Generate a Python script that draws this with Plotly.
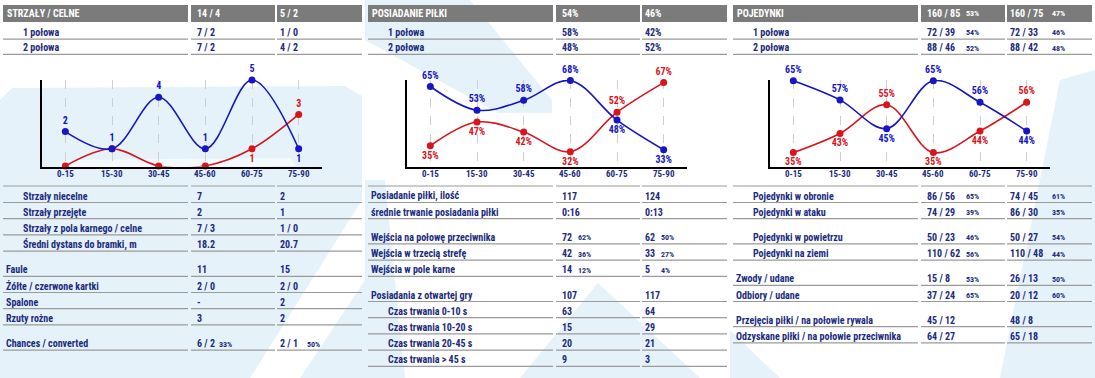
import plotly.graph_objects as go

W, H = 1095, 378
NAVY = "#1b2b7e"
BLUE = "#1616c4"
RED = "#d8141c"
HEAD = "#7b7b7b"
RULE = "#9a9a9a"
WASH = "#e6f2fa"
FONT = "Liberation Sans Narrow, Arial Narrow, Roboto Condensed, Roboto, sans-serif"

# ---------------- data ----------------
periods = ["0-15", "15-30", "30-45", "45-60", "60-75", "75-90"]
shots_home = [2, 1, 4, 1, 5, 1]
shots_away = [0, 1, 0, 0, 1, 3]
poss_home = [65, 53, 58, 68, 48, 33]
poss_away = [35, 47, 42, 32, 52, 67]
duels_home = [65, 57, 45, 65, 56, 44]
duels_away = [35, 43, 55, 35, 44, 56]

halves = ["1 połowa", "2 połowa"]

p1_title = "STRZAŁY / CELNE"
p1_total = ["14 / 4", "5 / 2"]
p1_total_pct = ["", ""]
p1_half_home = ["7 / 2", "7 / 2"]
p1_half_home_pct = ["", ""]
p1_half_away = ["1 / 0", "4 / 2"]
p1_half_away_pct = ["", ""]

p2_title = "POSIADANIE PIŁKI"
p2_total = ["54%", "46%"]
p2_total_pct = ["", ""]
p2_half_home = ["58%", "48%"]
p2_half_home_pct = ["", ""]
p2_half_away = ["42%", "52%"]
p2_half_away_pct = ["", ""]

p3_title = "POJEDYNKI"
p3_total = ["160 / 85", "160 / 75"]
p3_total_pct = ["53%", "47%"]
p3_half_home = ["72 / 39", "88 / 46"]
p3_half_home_pct = ["54%", "52%"]
p3_half_away = ["72 / 33", "88 / 42"]
p3_half_away_pct = ["46%", "48%"]

p1_rows = ["Strzały niecelne", "Strzały przejęte", "Strzały z pola karnego / celne",
           "Średni dystans do bramki, m", "Faule", "Żółte / czerwone kartki", "Spalone",
           "Rzuty rożne", "Chances / converted"]
p1_indent = [1, 1, 1, 1, 0, 0, 0, 0, 0]
p1_group = [0, 0, 0, 0, 1, 1, 1, 1, 2]
p1_home = ["7", "2", "7 / 3", "18.2", "11", "2 / 0", "-", "3", "6 / 2"]
p1_home_pct = ["", "", "", "", "", "", "", "", "33%"]
p1_away = ["2", "1", "1 / 0", "20.7", "15", "2 / 0", "2", "2", "2 / 1"]
p1_away_pct = ["", "", "", "", "", "", "", "", "50%"]

p2_rows = ["Posiadanie piłki, ilość", "średnie trwanie posiadania piłki",
           "Wejścia na połowę przeciwnika", "Wejścia w trzecią strefę", "Wejścia w pole karne",
           "Posiadania z otwartej gry", "Czas trwania 0-10 s", "Czas trwania 10-20 s",
           "Czas trwania 20-45 s", "Czas trwania > 45 s"]
p2_indent = [0, 0, 0, 0, 0, 0, 1, 1, 1, 1]
p2_group = [0, 0, 1, 1, 1, 2, 2, 2, 2, 2]
p2_home = ["117", "0:16", "72", "42", "14", "107", "63", "15", "20", "9"]
p2_home_pct = ["", "", "62%", "36%", "12%", "", "", "", "", ""]
p2_away = ["124", "0:13", "62", "33", "5", "117", "64", "29", "21", "3"]
p2_away_pct = ["", "", "50%", "27%", "4%", "", "", "", "", ""]

p3_rows = ["Pojedynki w obronie", "Pojedynki w ataku", "Pojedynki w powietrzu",
           "Pojedynki na ziemi", "Zwody / udane", "Odbiory / udane",
           "Przejęcia piłki / na połowie rywala", "Odzyskane piłki / na połowie przeciwnika"]
p3_indent = [1, 1, 1, 1, 0, 0, 0, 0]
p3_group = [0, 0, 1, 1, 2, 2, 3, 3]
p3_home = ["86 / 56", "74 / 29", "50 / 23", "110 / 62", "15 / 8", "37 / 24", "45 / 12", "64 / 27"]
p3_home_pct = ["65%", "39%", "46%", "56%", "53%", "65%", "", ""]
p3_away = ["74 / 45", "86 / 30", "50 / 27", "110 / 48", "26 / 13", "20 / 12", "48 / 8", "65 / 18"]
p3_away_pct = ["61%", "35%", "54%", "44%", "50%", "60%", "", ""]


# ---------------- helpers ----------------
def X(px):
    return px / W


def Y(py):
    return 1 - py / H


annotations = []
shapes = []


def text(px, py, s, size=10, color=NAVY, anchor="left"):
    if not s:
        return
    annotations.append(dict(x=X(px), y=Y(py), xref="paper", yref="paper",
                            text="<b>" + s + "</b>", showarrow=False,
                            xanchor=anchor, yanchor="middle",
                            font=dict(family=FONT, size=size, color=color)))


def hline(x0, x1, py, color=RULE, width=1.2):
    shapes.append(dict(type="line", xref="paper", yref="paper", x0=X(x0), x1=X(x1),
                       y0=Y(py), y1=Y(py), line=dict(color=color, width=width)))


def rect(x0, x1, y0, y1, color, layer="below"):
    shapes.append(dict(type="rect", xref="paper", yref="paper", x0=X(x0), x1=X(x1),
                       y0=Y(y1), y1=Y(y0), fillcolor=color, line=dict(width=0), layer=layer))


def poly(points, color=WASH):
    path = "M " + " L ".join(f"{X(a):.5f},{Y(b):.5f}" for a, b in points) + " Z"
    shapes.append(dict(type="path", xref="paper", yref="paper", path=path,
                       fillcolor=color, line=dict(width=0), layer="below"))


# ---------------- background wash ----------------
poly([(0, 378), (0, 100), (12, 88), (345, 86), (362, 96), (362, 200), (250, 378)])
poly([(60, 160), (290, 158), (296, 166), (60, 168)], color="#f3f9fd")
poly([(300, 378), (365, 280), (365, 378)])
poly([(365, 0), (470, 0), (552, 100), (552, 113), (498, 113), (365, 40)])
poly([(365, 180), (385, 180), (405, 378), (365, 378)])
poly([(598, 283), (700, 378), (520, 378)])
poly([(1060, 80), (1095, 70), (1095, 378), (1000, 378)])
poly([(730, 330), (780, 378), (730, 378)])

# ---------------- charts ----------------
charts = [
    (0, 42, shots_home, shots_away, [-0.03, 5.0], ""),
    (365, 42, poss_home, poss_away, [24.5, 68.3], "%"),
    (730, 40, duels_home, duels_away, [29.2, 65.3], "%"),
]

fig = go.Figure()
CH_TOP, CH_BOT = 80, 166.5
layout_axes = {}
for k, (ox, left, home, away, yr, suf) in enumerate(charts, start=1):
    xa = "x" if k == 1 else f"x{k}"
    ya = "y" if k == 1 else f"y{k}"
    h_text, h_pos, a_text, a_pos = [], [], [], []
    for hv, av in zip(home, away):
        h_text.append(f"<b>{hv}{suf}</b>" if hv > 0 else "")
        h_pos.append("top center" if hv >= av else "bottom center")
        if av == 0 or av == hv:
            a_text.append("")
        else:
            a_text.append(f"<b>{av}{suf}</b>")
        a_pos.append("top center" if av > hv else "bottom center")
    for vals, txt, pos, col in [(away, a_text, a_pos, RED), (home, h_text, h_pos, BLUE)]:
        fig.add_trace(go.Scatter(
            x=periods, y=vals, xaxis=xa, yaxis=ya, mode="lines+markers+text",
            line=dict(color=col, width=1.6, shape="spline", smoothing=1.0),
            marker=dict(color=col, size=7), text=txt, textposition=pos,
            textfont=dict(family=FONT, size=10, color=col), cliponaxis=False,
            hoverinfo="skip"))
    x0 = ox + left
    layout_axes["xaxis" + ("" if k == 1 else str(k))] = dict(
        domain=[X(x0), X(x0 + 280)], anchor=ya, type="category", range=[-0.5, 5.5],
        showline=True, linecolor="black", linewidth=1.5, ticks="",
        showgrid=True, gridcolor="#cfcfcf", griddash="dash", gridwidth=1,
        showticklabels=False, fixedrange=True)
    layout_axes["yaxis" + ("" if k == 1 else str(k))] = dict(
        domain=[Y(CH_BOT), Y(CH_TOP)], anchor=xa, range=yr, showline=True,
        linecolor="black", linewidth=1.5, showgrid=False, zeroline=False,
        showticklabels=False, ticks="", fixedrange=True)
    for per in periods:
        annotations.append(dict(x=per, y=Y(173.5), xref=xa, yref="paper",
                                text=f"<b>{per}</b>", showarrow=False,
                                xanchor="center", yanchor="middle",
                                font=dict(family=FONT, size=9, color=NAVY)))

# ---------------- tables ----------------
COLS = [(3, 188), (191, 275), (277, 362)]
panels = [
    dict(ox=0, title=p1_title, total=p1_total, total_pct=p1_total_pct,
         hh=p1_half_home, hhp=p1_half_home_pct, ha=p1_half_away, hap=p1_half_away_pct,
         rows=p1_rows, ind=p1_indent, grp=p1_group, home=p1_home, hp=p1_home_pct,
         away=p1_away, ap=p1_away_pct, pct_dx=(22, 27)),
    dict(ox=365, title=p2_title, total=p2_total, total_pct=p2_total_pct,
         hh=p2_half_home, hhp=p2_half_home_pct, ha=p2_half_away, hap=p2_half_away_pct,
         rows=p2_rows, ind=p2_indent, grp=p2_group, home=p2_home, hp=p2_home_pct,
         away=p2_away, ap=p2_away_pct, pct_dx=(16, 16)),
    dict(ox=730, title=p3_title, total=p3_total, total_pct=p3_total_pct,
         hh=p3_half_home, hhp=p3_half_home_pct, ha=p3_half_away, hap=p3_half_away_pct,
         rows=p3_rows, ind=p3_indent, grp=p3_group, home=p3_home, hp=p3_home_pct,
         away=p3_away, ap=p3_away_pct, pct_dx=(39, 42)),
]

V1, V2 = 195, 278
for p in panels:
    ox = p["ox"]
    for a, b in COLS:
        rect(ox + a, ox + b, 5, 22, HEAD)
    text(ox + 5, 13.5, p["title"], size=10, color="white")
    text(ox + V1, 13.5, p["total"][0], size=10, color="white")
    text(ox + V2, 13.5, p["total"][1], size=10, color="white")
    text(ox + V1 + p["pct_dx"][0], 14, p["total_pct"][0], size=8, color="white")
    text(ox + V2 + p["pct_dx"][1], 14, p["total_pct"][1], size=8, color="white")
    for i, lab in enumerate(halves):
        yy = 32.3 + i * 15.2
        text(ox + 21, yy, lab)
        text(ox + V1, yy, p["hh"][i])
        text(ox + V2, yy, p["ha"][i])
        text(ox + V1 + p["pct_dx"][0], yy + 0.5, p["hhp"][i], size=8)
        text(ox + V2 + p["pct_dx"][1], yy + 0.5, p["hap"][i], size=8)
        for a, b in COLS:
            hline(ox + a, ox + b, yy + 6.8)
    for a, b in COLS:
        hline(ox + a, ox + b, 186)
    for i, lab in enumerate(p["rows"]):
        yy = 196 + i * 16.2 + p["grp"][i] * 9
        text(ox + (21 if p["ind"][i] else 4), yy, lab)
        text(ox + V1, yy, p["home"][i])
        text(ox + V2, yy, p["away"][i])
        text(ox + V1 + p["pct_dx"][0], yy + 0.5, p["hp"][i], size=8)
        text(ox + V2 + p["pct_dx"][1], yy + 0.5, p["ap"][i], size=8)
        for a, b in COLS:
            hline(ox + a, ox + b, yy + 6.5)

fig.update_layout(
    width=W, height=H, margin=dict(l=0, r=0, t=0, b=0), showlegend=False,
    paper_bgcolor="white", plot_bgcolor="rgba(0,0,0,0)",
    annotations=annotations, shapes=shapes, **layout_axes)

fig.write_html("out.html", config={"displayModeBar": False},
               post_script="document.body.style.margin='0';document.body.style.overflow='hidden';")
